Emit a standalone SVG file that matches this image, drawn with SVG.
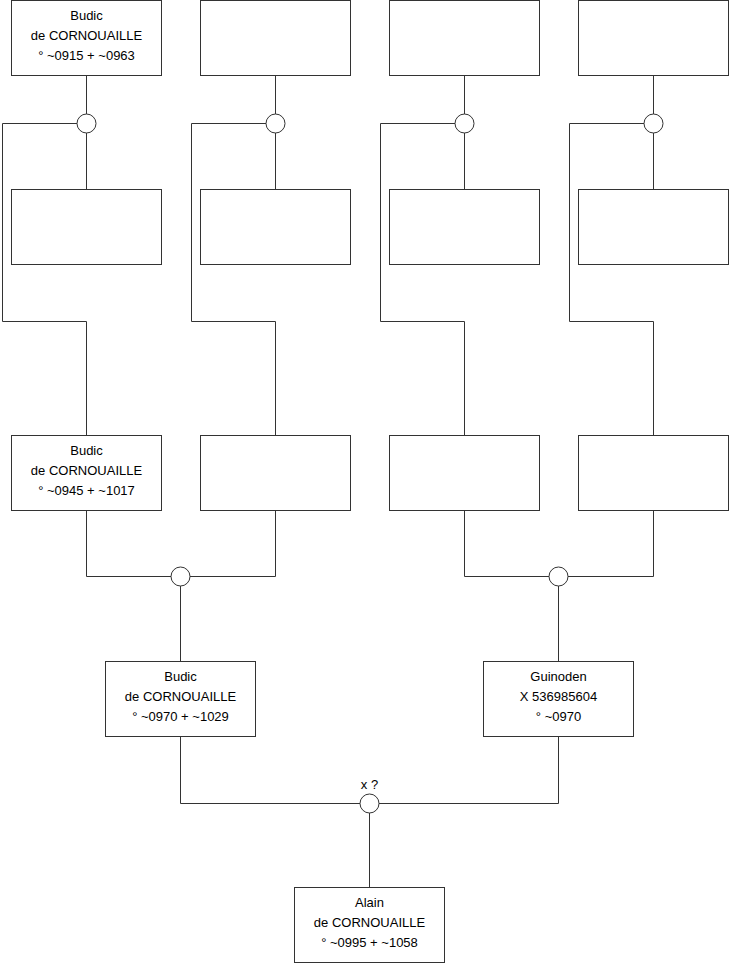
<svg xmlns="http://www.w3.org/2000/svg" width="740" height="975" viewBox="0 0 740 975">
<style>
.box{fill:#fff;stroke:#333;stroke-width:1}
.ln{fill:none;stroke:#333;stroke-width:1}
.dot{fill:#fff;stroke:#333;stroke-width:1}
text{font-family:"Liberation Sans",Arial,sans-serif;font-size:13px;fill:#000;text-anchor:middle}
</style>
<rect width="740" height="975" fill="#fff"/>
<g id="connectors">
<path class="ln" d="M86.5 76V189.5M86.5 123.5H2.5V321.5H86.5V435.5"/>
<path class="ln" d="M275.5 76V189.5M275.5 123.5H191.5V321.5H275.5V435.5"/>
<path class="ln" d="M464.5 76V189.5M464.5 123.5H380.5V321.5H464.5V435.5"/>
<path class="ln" d="M653.5 76V189.5M653.5 123.5H569.5V321.5H653.5V435.5"/>
<path class="ln" d="M86.5 511V576.5H275.5V511M180.5 576.5V661.5"/>
<path class="ln" d="M464.5 511V576.5H653.5V511M558.5 576.5V661.5"/>
<path class="ln" d="M180.5 737V803.5H558.5V737M369.5 803.5V887.5"/>
<circle class="dot" cx="86.5" cy="123.5" r="9.5"/>
<circle class="dot" cx="275.5" cy="123.5" r="9.5"/>
<circle class="dot" cx="464.5" cy="123.5" r="9.5"/>
<circle class="dot" cx="653.5" cy="123.5" r="9.5"/>
<circle class="dot" cx="180.5" cy="576.5" r="9.5"/>
<circle class="dot" cx="558.5" cy="576.5" r="9.5"/>
<circle class="dot" cx="369.5" cy="803.5" r="9.5"/>
<text x="369.5" y="789">x ?</text>
</g>
<g id="n1"><rect class="box" x="11.5" y="0.5" width="150" height="75"/>
<text x="86.5" y="20">Budic</text><text x="86.5" y="40">de CORNOUAILLE</text><text x="86.5" y="60">° ~0915 + ~0963</text></g>
<g id="n2"><rect class="box" x="200.5" y="0.5" width="150" height="75"/></g>
<g id="n3"><rect class="box" x="389.5" y="0.5" width="150" height="75"/></g>
<g id="n4"><rect class="box" x="578.5" y="0.5" width="150" height="75"/></g>
<g id="n5"><rect class="box" x="11.5" y="189.5" width="150" height="75"/></g>
<g id="n6"><rect class="box" x="200.5" y="189.5" width="150" height="75"/></g>
<g id="n7"><rect class="box" x="389.5" y="189.5" width="150" height="75"/></g>
<g id="n8"><rect class="box" x="578.5" y="189.5" width="150" height="75"/></g>
<g id="n9"><rect class="box" x="11.5" y="435.5" width="150" height="75"/>
<text x="86.5" y="455">Budic</text><text x="86.5" y="475">de CORNOUAILLE</text><text x="86.5" y="495">° ~0945 + ~1017</text></g>
<g id="n10"><rect class="box" x="200.5" y="435.5" width="150" height="75"/></g>
<g id="n11"><rect class="box" x="389.5" y="435.5" width="150" height="75"/></g>
<g id="n12"><rect class="box" x="578.5" y="435.5" width="150" height="75"/></g>
<g id="n13"><rect class="box" x="105.5" y="661.5" width="150" height="75"/>
<text x="180.5" y="681">Budic</text><text x="180.5" y="701">de CORNOUAILLE</text><text x="180.5" y="721">° ~0970 + ~1029</text></g>
<g id="n14"><rect class="box" x="483.5" y="661.5" width="150" height="75"/>
<text x="558.5" y="681">Guinoden</text><text x="558.5" y="701">X 536985604</text><text x="558.5" y="721">° ~0970</text></g>
<g id="n15"><rect class="box" x="294.5" y="887.5" width="150" height="75"/>
<text x="369.5" y="907">Alain</text><text x="369.5" y="927">de CORNOUAILLE</text><text x="369.5" y="947">° ~0995 + ~1058</text></g>
</svg>
